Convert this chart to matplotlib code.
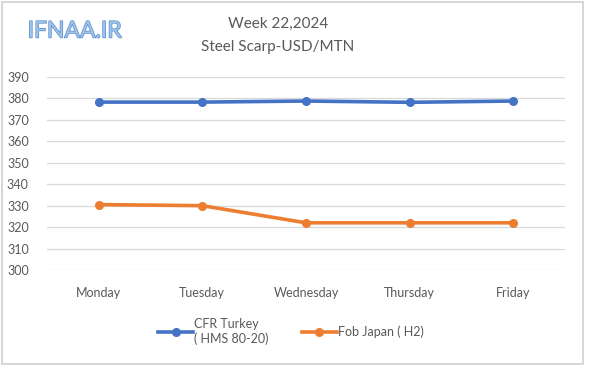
import numpy as np
import matplotlib
matplotlib.use("Agg")
import matplotlib.pyplot as plt
import matplotlib.patheffects as pe
from matplotlib.patches import Rectangle

plt.rcParams['font.family'] = ['Lato', 'DejaVu Sans']

# data
days = ['Monday', 'Tuesday', 'Wednesday', 'Thursday', 'Friday']
cfr_turkey = [378.3, 378.3, 378.8, 378.2, 378.8]
fob_japan = [330.5, 330.0, 322.0, 322.0, 322.0]
yticks = list(range(300, 391, 10))

blue = '#4472C4'
orange = '#ED7D31'
txt = '#595959'

fig = plt.figure(figsize=(6, 3.65), dpi=100)
ax = fig.add_axes([0.078, 0.2603, 0.864, 0.5287])

x = np.arange(len(days))
ax.plot(x, cfr_turkey, color=blue, lw=2.6, marker='o', ms=5.5,
        label='CFR Turkey\n( HMS 80-20)')
ax.plot(x, fob_japan, color=orange, lw=2.6, marker='o', ms=5.5,
        label='Fob Japan ( H2)')

ax.set_xlim(-0.5, 4.5)
ax.set_ylim(300, 390)
ax.set_yticks(yticks)
ax.set_xticks(x)
ax.set_xticklabels(days)
ax.grid(axis='y', color='#d9d9d9', lw=0.9)
ax.set_axisbelow(True)
for s in ax.spines.values():
    s.set_visible(False)
ax.tick_params(length=0, labelsize=9, colors=txt)
ax.tick_params(axis='x', pad=12)
ax.tick_params(axis='y', pad=13)

fig.text(0.463, 0.935, 'Week 22,2024', ha='center', va='center', fontsize=11, color=txt)
fig.text(0.463, 0.872, 'Steel Scarp-USD/MTN', ha='center', va='center', fontsize=11, color=txt)

# logo text with a thin outline
fig.text(0.046, 0.915, 'IFNAA.IR', ha='left', va='center', fontsize=16.5, color='#9dc3e6',
         path_effects=[pe.withStroke(linewidth=1.0, foreground='#5b8bd0')])

fig.legend(loc='upper left', bbox_to_anchor=(0.245, 0.16), ncol=2, frameon=False,
           fontsize=9, handlelength=2.8, columnspacing=2.6, handletextpad=0.1,
           labelcolor=txt)

fig.patches.append(Rectangle((0.004, 0.004), 0.968, 0.99, transform=fig.transFigure,
                             fill=False, edgecolor='#d0d0d0', lw=1.2))

fig.savefig('out.png', dpi=100)
